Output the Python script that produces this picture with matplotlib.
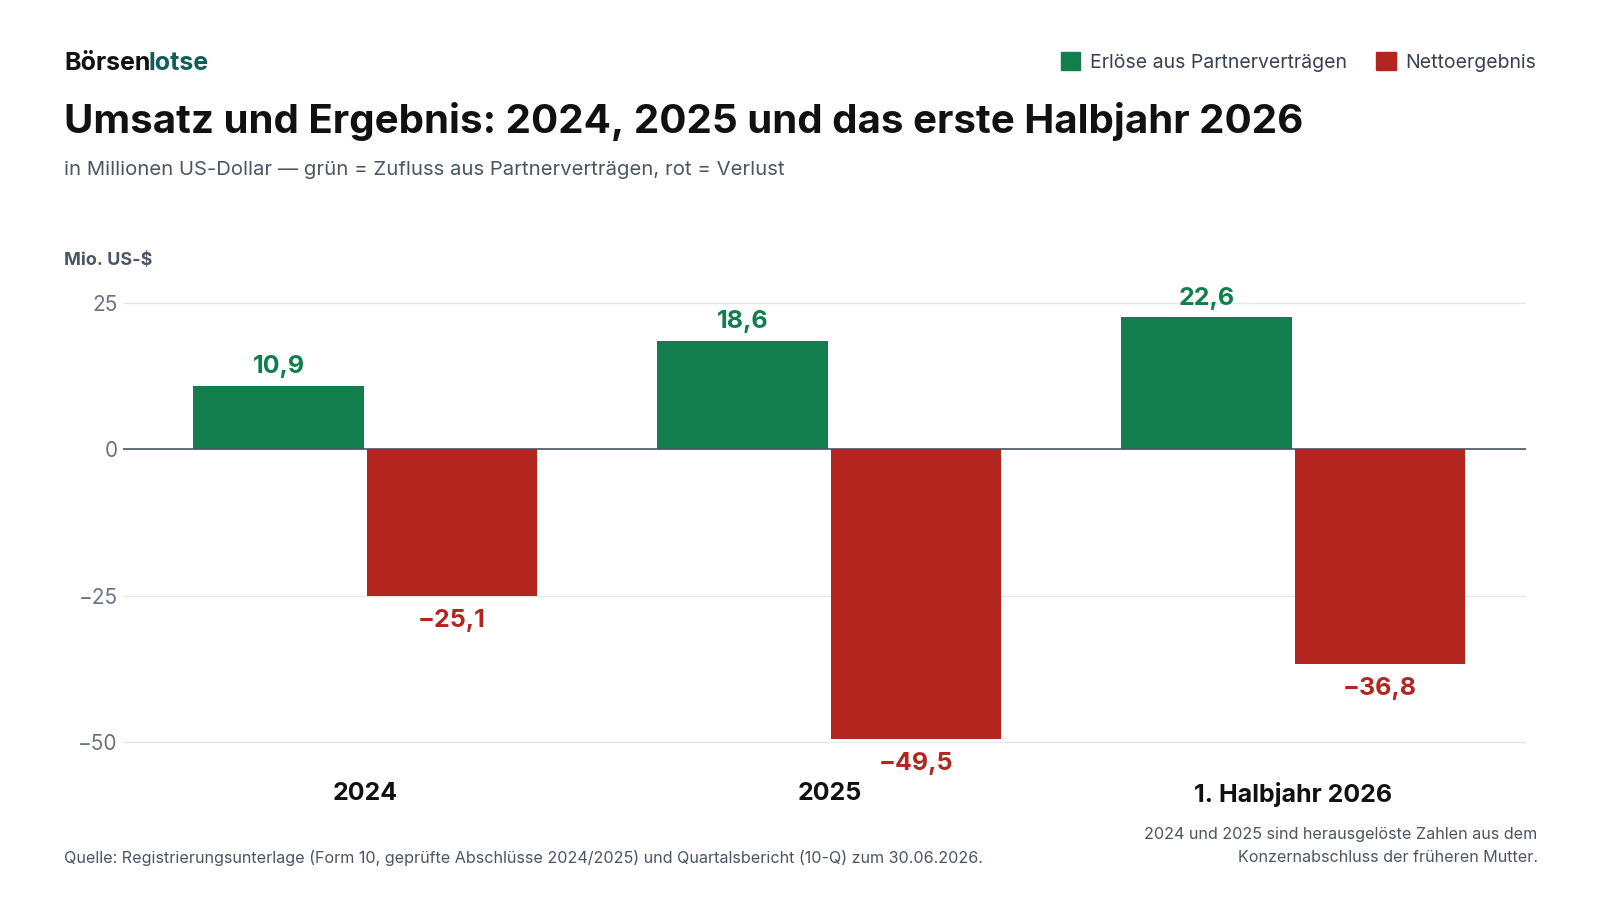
import matplotlib.pyplot as plt
from matplotlib.patches import Patch

plt.rcParams['font.family'] = ['Inter', 'DejaVu Sans']

labels = ["2024", "2025", "1. Halbjahr 2026"]
erloese = [10.9, 18.6, 22.6]
netto = [-25.1, -49.5, -36.8]
x = [0, 1, 2]

green = '#127e4d'
red = '#b3261f'

fig = plt.figure(figsize=(16, 9), dpi=100)
ax = fig.add_axes([0.0766, 0.137, 0.877, 0.539])

ax.bar([i - 0.187 for i in x], erloese, width=0.367, color=green, zorder=3)
ax.bar([i + 0.187 for i in x], netto, width=0.367, color=red, zorder=3)

for i in x:  # Werte an die Balken schreiben
    ax.text(i - 0.187, erloese[i] + 1.3, f"{erloese[i]:.1f}".replace('.', ','),
            ha='center', va='bottom', color=green, fontsize=18, fontweight='bold')
    ax.text(i + 0.187, netto[i] - 2.2, "\u2212" + f"{-netto[i]:.1f}".replace('.', ','),
            ha='center', va='top', color=red, fontsize=18, fontweight='bold')

ax.set_xlim(-0.523, 2.501)
ax.set_ylim(-56, 27)
ax.set_yticks([25, 0, -25, -50])
ax.set_yticklabels(["25", "0", "\u221225", "\u221250"], color='#6b7280', fontsize=15)
ax.set_xticks(x)
ax.set_xticklabels(labels, fontsize=18, fontweight='bold', color='#111111')
ax.tick_params(axis='both', length=0)
ax.tick_params(axis='x', pad=4)
ax.grid(axis='y', color='#e5e7eb', linewidth=1, zorder=0)
ax.axhline(0, color='#4b5563', linewidth=1.2, zorder=4)
for s in ax.spines.values():
    s.set_visible(False)

fig.text(0.04, 0.929, "Börsen", fontsize=18, fontweight='bold', color='#111111', va='center')
fig.text(0.0925, 0.929, "lotse", fontsize=18, fontweight='bold', color='#0f5c5c', va='center')
fig.text(0.04, 0.865, "Umsatz und Ergebnis: 2024, 2025 und das erste Halbjahr 2026",
         fontsize=29, fontweight='bold', color='#111111', va='center')
fig.text(0.04, 0.811, "in Millionen US-Dollar — grün = Zufluss aus Partnerverträgen, rot = Verlust",
         fontsize=14.6, color='#4b5563', va='center')
fig.text(0.04, 0.711, "Mio. US-$", fontsize=13, fontweight='bold', color='#4b5563', va='center')

fig.legend(handles=[Patch(color=green, label='Erlöse aus Partnerverträgen'),
                    Patch(color=red, label='Nettoergebnis')],
           loc='center right', bbox_to_anchor=(0.971, 0.931), ncol=2, frameon=False,
           fontsize=14, handlelength=1.0, handleheight=1.0, columnspacing=1.5,
           handletextpad=0.5, labelcolor='#374151')

fig.text(0.04, 0.047, "Quelle: Registrierungsunterlage (Form 10, geprüfte Abschlüsse 2024/2025) und Quartalsbericht (10-Q) zum 30.06.2026.",
         fontsize=11.6, color='#4b5563', va='center')
fig.text(0.961, 0.06, "2024 und 2025 sind herausgelöste Zahlen aus dem\nKonzernabschluss der früheren Mutter.",
         fontsize=11.6, color='#4b5563', va='center', ha='right', linespacing=1.6)

plt.savefig("out.png")
